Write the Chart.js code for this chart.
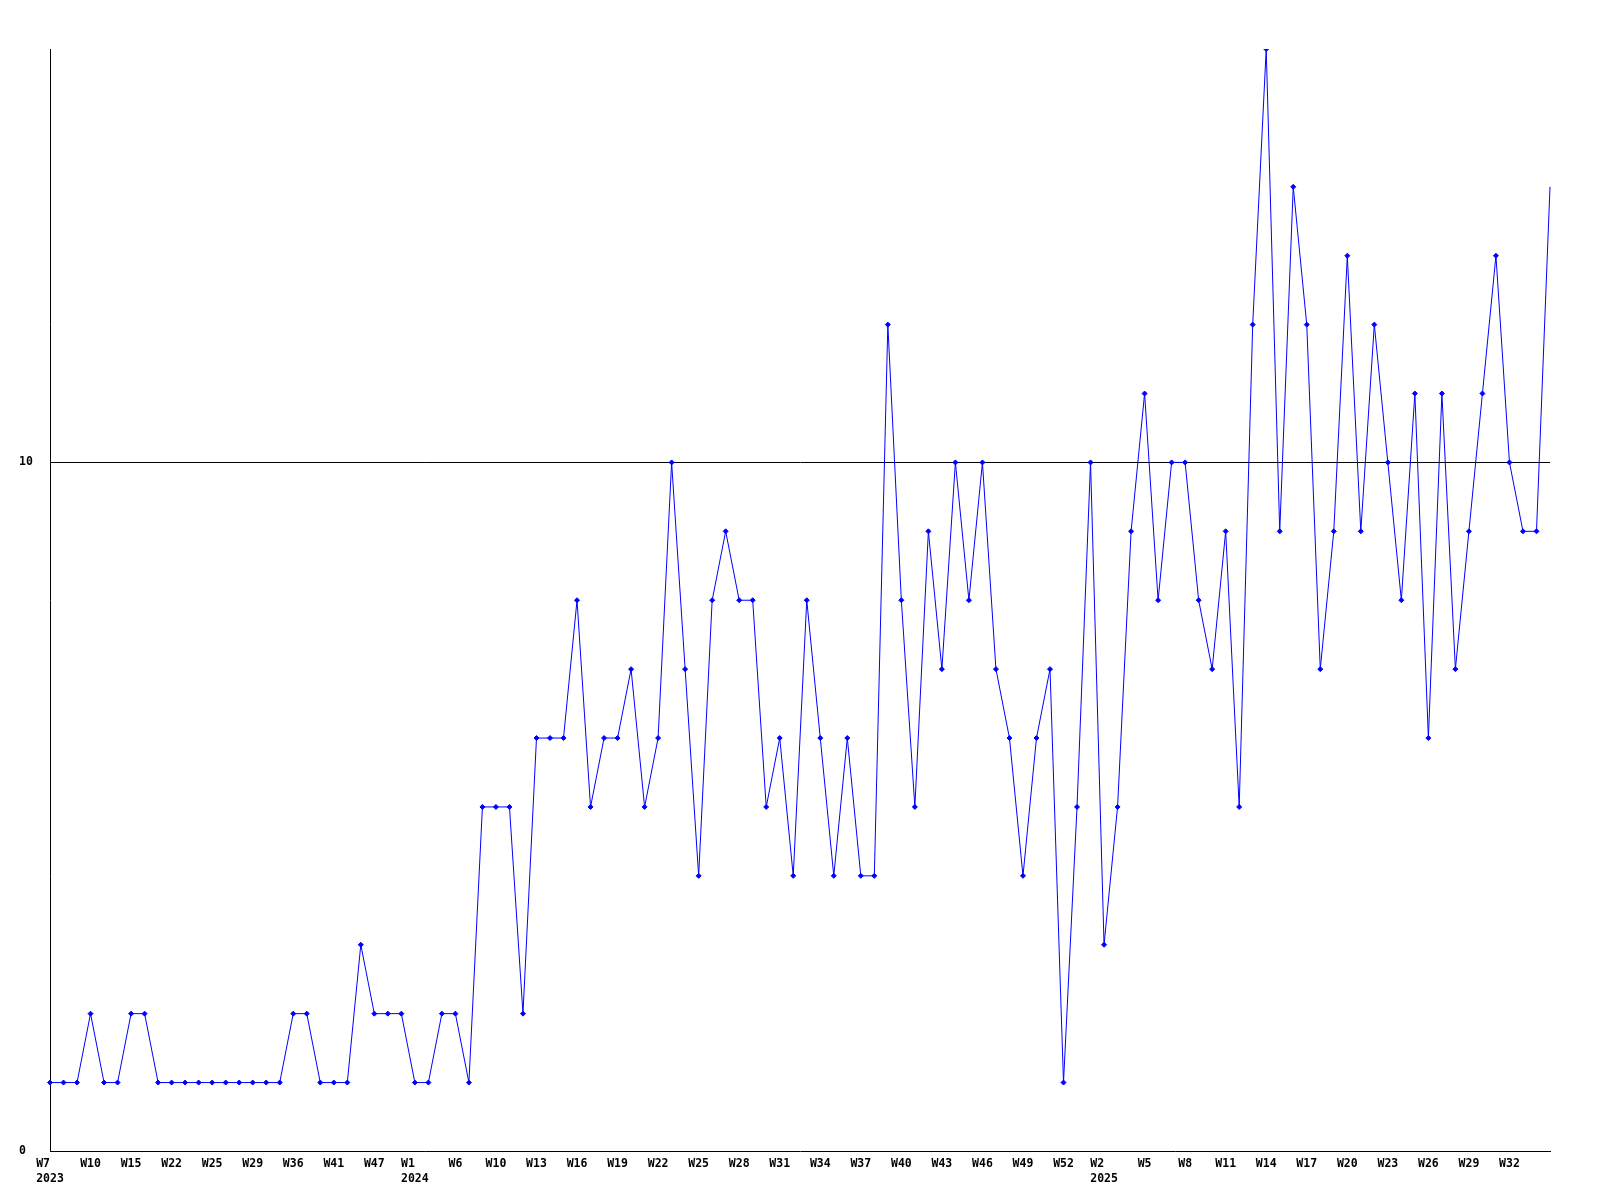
<!DOCTYPE html>
<html>
<head>
<meta charset="utf-8">
<script src="https://cdn.jsdelivr.net/npm/chart.js@4/dist/chart.umd.min.js"></script>
<style>
    html, body { margin: 0; padding: 0; background: #ffffff; }
    #chart { display: block; }
</style>
</head>
<body>
<canvas id="chart" width="1600" height="1200"></canvas>
<script>
'use strict';

// week labels, one per point
var weeks2023 = ['W7', 'W8', 'W9', 'W10', 'W11', 'W13', 'W15', 'W17', 'W20', 'W22', 'W23', 'W24', 'W25', 'W26',
    'W28', 'W29', 'W31', 'W33', 'W36', 'W38', 'W40', 'W41', 'W43', 'W45', 'W47', 'W49', 'W51'];
var weeks2024 = ['W1', 'W3', 'W4', 'W6', 'W7', 'W9', 'W10', 'W11', 'W12', 'W13', 'W14', 'W15', 'W16', 'W17',
    'W18', 'W19', 'W20', 'W21', 'W22', 'W23', 'W24', 'W25', 'W26', 'W27', 'W28', 'W29', 'W30', 'W31', 'W32',
    'W33', 'W34', 'W35', 'W36', 'W37', 'W38', 'W39', 'W40', 'W41', 'W42', 'W43', 'W44', 'W45', 'W46', 'W47',
    'W48', 'W49', 'W50', 'W51', 'W52', 'W53'];
var weeks2025 = ['W1', 'W2', 'W3', 'W4', 'W5', 'W6', 'W7', 'W8', 'W9', 'W10', 'W11', 'W12', 'W13', 'W14', 'W15',
    'W16', 'W17', 'W18', 'W19', 'W20', 'W21', 'W22', 'W23', 'W24', 'W25', 'W26', 'W27', 'W28', 'W29', 'W30',
    'W31', 'W32', 'W33', 'W34', 'W35'];

// year shown under the first labelled week of each year
var yearNames = ['2023', '2024', '2025'];
var yearTickIndex = [0, 27, 78];

var counts2023 = [1, 1, 1, 2, 1, 1, 2, 2, 1, 1, 1, 1, 1, 1, 1, 1, 1, 1, 2, 2, 1, 1, 1, 3, 2, 2, 2];
var counts2024 = [1, 1, 2, 2, 1, 5, 5, 5, 2, 6, 6, 6, 8, 5, 6, 6, 7, 5, 6, 10, 7, 4, 8, 9, 8, 8, 5, 6, 4, 8,
    6, 4, 6, 4, 4, 12, 8, 5, 9, 7, 10, 8, 10, 7, 6, 4, 6, 7, 1, 5];
var counts2025 = [10, 3, 5, 9, 11, 8, 10, 10, 8, 7, 9, 5, 12, 16, 9, 14, 12, 7, 9, 13, 9, 12, 10, 8, 11, 6,
    11, 7, 9, 11, 13, 10, 9, 9, 14];

var yTicks = [0, 10];
var yMax = 16;

var labels = weeks2023.concat(weeks2024, weeks2025);
var counts = counts2023.concat(counts2024, counts2025);

var tickFont = { family: '"DejaVu Sans Mono", "Liberation Mono", monospace', size: 11.5, weight: 'bold', lineHeight: 1.35 };

function weekTick(value, index) {
    // every third week is labelled, the last point is not
    if (index % 3 !== 0 || index >= labels.length - 1) {
        return null;
    }
    var pos = yearTickIndex.indexOf(index);
    if (pos >= 0) {
        var year = yearNames[pos];
        return [labels[index].padEnd(year.length), year];
    }
    return labels[index];
}

var ctx = document.getElementById('chart').getContext('2d');

new Chart(ctx, {
    type: 'line',
    data: {
        labels: labels,
        datasets: [{
            data: counts,
            borderColor: '#0000ff',
            backgroundColor: '#0000ff',
            borderWidth: 1,
            tension: 0,
            fill: false,
            pointStyle: 'rectRot',
            pointRadius: function (c) {
                return c.dataIndex === counts.length - 1 ? 0 : 2.5;
            },
            pointBorderWidth: 1,
            pointBorderColor: '#0000ff',
            pointBackgroundColor: '#0000ff'
        }]
    },
    options: {
        responsive: false,
        animation: false,
        devicePixelRatio: 1,
        layout: {
            padding: { left: 19, right: 50, top: 49, bottom: 8.5 }
        },
        plugins: {
            legend: { display: false },
            tooltip: { enabled: false },
            title: { display: false }
        },
        scales: {
            x: {
                type: 'category',
                offset: false,
                grid: { display: false, drawTicks: false },
                border: { display: true, color: '#000000', width: 1 },
                ticks: {
                    autoSkip: false,
                    maxRotation: 0,
                    minRotation: 0,
                    padding: 4.5,
                    color: '#000000',
                    font: tickFont,
                    callback: weekTick
                }
            },
            y: {
                min: 0,
                max: yMax,
                afterBuildTicks: function (scale) {
                    scale.ticks = yTicks.map(function (v) { return { value: v }; });
                },
                afterFit: function (scale) {
                    scale.width = 31;
                },
                grid: {
                    drawTicks: false,
                    lineWidth: 1,
                    color: function (c) {
                        return c.tick && c.tick.value === 10 ? '#000000' : 'rgba(0,0,0,0)';
                    }
                },
                border: { display: true, color: '#000000', width: 1 },
                ticks: {
                    crossAlign: 'far',
                    padding: 17,
                    color: '#000000',
                    font: tickFont
                }
            }
        }
    }
});
</script>
</body>
</html>
